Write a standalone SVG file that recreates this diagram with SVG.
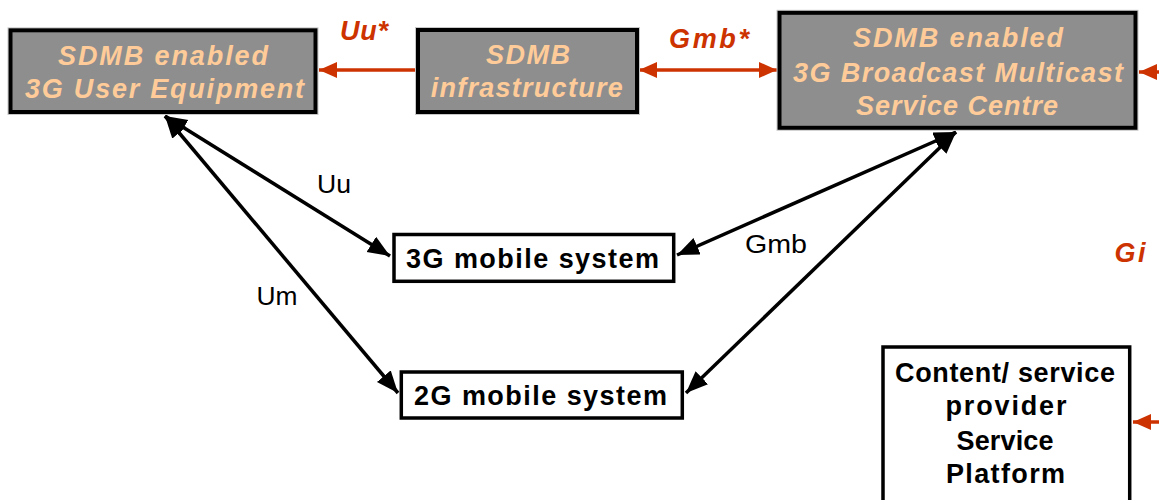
<svg xmlns="http://www.w3.org/2000/svg" width="1159" height="500" viewBox="0 0 1159 500">
  <style>
    .gbox { fill: #8e8e8e; stroke: #000; stroke-width: 4; }
    .halo { fill: none; stroke: #c8c8c8; stroke-width: 1; }
    .wbox { fill: #fff; stroke: #000; stroke-width: 3.5; }
    .gt { fill: #ffcc99; font-family: "Liberation Sans", Arial, sans-serif; font-weight: bold; font-style: italic; font-size: 27px; text-anchor: middle; }
    .rl { fill: #cc3300; font-family: "Liberation Sans", Arial, sans-serif; font-weight: bold; font-style: italic; font-size: 27px; text-anchor: middle; }
    .bt { fill: #000; font-family: "Liberation Sans", Arial, sans-serif; font-weight: bold; font-size: 27px; text-anchor: middle; }
    .lb { fill: #000; font-family: "Liberation Sans", Arial, sans-serif; font-size: 26px; text-anchor: middle; }
    .blk { stroke: #000; stroke-width: 3.5; fill: none; marker-start: url(#ab); marker-end: url(#ab); }
    .red { stroke: #cc3300; stroke-width: 3.5; fill: none; }
  </style>
  <defs>
    <marker id="ab" markerUnits="userSpaceOnUse" markerWidth="24" markerHeight="20" refX="22" refY="9" orient="auto-start-reverse">
      <path d="M0,0 L22,9 L0,18 Z" fill="#000"/>
    </marker>
    <marker id="ar" markerUnits="userSpaceOnUse" markerWidth="20" markerHeight="18" refX="18" refY="8" orient="auto-start-reverse">
      <path d="M0,0 L18,8 L0,16 Z" fill="#cc3300"/>
    </marker>
  </defs>

  <!-- interfaces -->
  <g id="connectors">
    <line class="red" x1="416" y1="70" x2="319" y2="70" marker-end="url(#ar)"/>
    <line class="red" x1="639" y1="70" x2="777" y2="70" marker-start="url(#ar)" marker-end="url(#ar)"/>
    <line class="red" x1="1162" y1="72" x2="1139" y2="72" marker-end="url(#ar)"/>
    <line class="red" x1="1162" y1="422" x2="1133" y2="422" marker-end="url(#ar)"/>

    <line class="blk" x1="165" y1="116" x2="390" y2="256"/>
    <line class="blk" x1="165" y1="116" x2="398" y2="393"/>
    <line class="blk" x1="956" y1="132" x2="677" y2="255"/>
    <line class="blk" x1="956" y1="132" x2="686" y2="393"/>

    <text class="rl" x="364" y="40" textLength="48" lengthAdjust="spacing">Uu*</text>
    <text class="rl" x="709" y="48" textLength="80" lengthAdjust="spacing">Gmb*</text>
    <text class="rl" x="1130" y="262" textLength="31" lengthAdjust="spacing">Gi</text>

    <text class="lb" x="334" y="193" textLength="34" lengthAdjust="spacingAndGlyphs">Uu</text>
    <text class="lb" x="277" y="305" textLength="41" lengthAdjust="spacingAndGlyphs">Um</text>
    <text class="lb" x="776" y="253" textLength="62" lengthAdjust="spacingAndGlyphs">Gmb</text>
  </g>

  <g id="ue">
    <rect class="halo" x="8" y="27.8" width="310" height="86.7"/>
    <rect class="gbox" x="10.5" y="30.3" width="305" height="81.7"/>
    <text class="gt" x="163" y="65" textLength="210" lengthAdjust="spacing">SDMB enabled</text>
    <text class="gt" x="164.5" y="98" textLength="279" lengthAdjust="spacing">3G User Equipment</text>
  </g>

  <g id="infrastructure">
    <rect class="halo" x="415.5" y="27.5" width="224" height="87"/>
    <rect class="gbox" x="418" y="30" width="219" height="82"/>
    <text class="gt" x="528" y="64" textLength="84" lengthAdjust="spacing">SDMB</text>
    <text class="gt" x="526.7" y="97" textLength="192" lengthAdjust="spacing">infrastructure</text>
  </g>

  <g id="bmsc">
    <rect class="halo" x="777" y="10.3" width="361" height="120"/>
    <rect class="gbox" x="779.5" y="12.8" width="356" height="115"/>
    <text class="gt" x="958" y="47" textLength="210" lengthAdjust="spacing">SDMB enabled</text>
    <text class="gt" x="958" y="81.5" textLength="330" lengthAdjust="spacing">3G Broadcast Multicast</text>
    <text class="gt" x="957" y="115" textLength="202" lengthAdjust="spacing">Service Centre</text>
  </g>

  <g id="mobile-3g">
    <rect class="wbox" x="394" y="234.5" width="279.7" height="46.8"/>
    <text class="bt" x="532.5" y="268" textLength="253" lengthAdjust="spacing">3G mobile system</text>
  </g>

  <g id="mobile-2g">
    <rect class="wbox" x="401.3" y="372" width="281" height="46"/>
    <text class="bt" x="540.5" y="405" textLength="253" lengthAdjust="spacing">2G mobile system</text>
  </g>

  <g id="content-provider">
    <rect class="wbox" x="883" y="347" width="246.7" height="170"/>
    <text class="bt" x="1005" y="382" textLength="220" lengthAdjust="spacing">Content/ service</text>
    <text class="bt" x="1006" y="415" textLength="121" lengthAdjust="spacing">provider</text>
    <text class="bt" x="1005" y="450" textLength="97" lengthAdjust="spacing">Service</text>
    <text class="bt" x="1005.5" y="483" textLength="119" lengthAdjust="spacing">Platform</text>
  </g>
</svg>
